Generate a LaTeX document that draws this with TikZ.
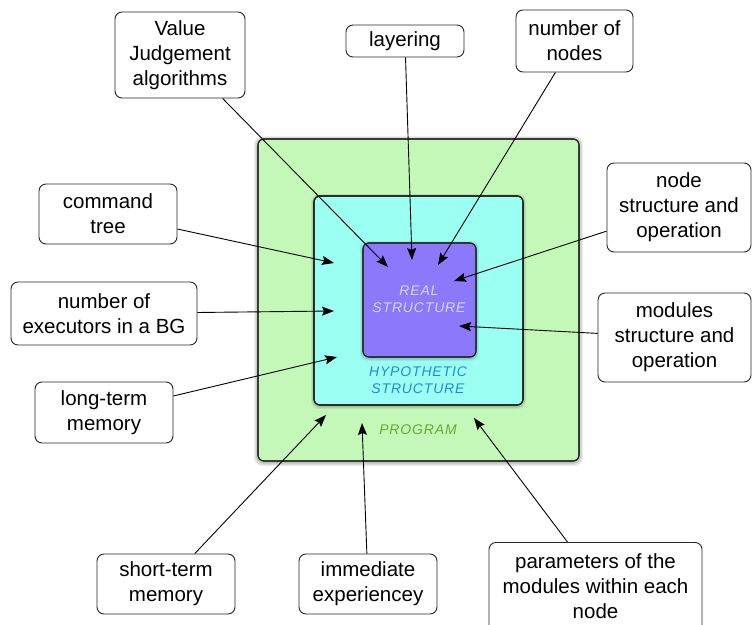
\documentclass[tikz,border=0pt]{standalone}
\usepackage{fontspec}
\setmainfont{Liberation Sans}
\newfontfamily\spacedfont[LetterSpace=6]{Liberation Sans}
\usetikzlibrary{arrows.meta}
\definecolor{progfill}{HTML}{C4F8B8}
\definecolor{hypfill}{HTML}{9BFFF2}
\definecolor{realfill}{HTML}{8B78FA}
\definecolor{hyptext}{HTML}{2389D8}
\definecolor{progtext}{HTML}{6BAA2E}
\definecolor{realtext}{HTML}{DAD3F6}
\tikzset{
  box/.style={draw=black!85, line width=0.9pt, rounded corners=7pt, fill=white,
    align=center, inner sep=0pt, font=\fontsize{20.5}{25}\selectfont},
  layer/.style={draw=black!85, line width=1.1pt, rounded corners=6pt},
  shade1/.style={fill=black, opacity=0.07, rounded corners=8pt},
  arr/.style={-{Stealth[length=12pt,width=9pt,inset=2pt]}, line width=0.9pt, black},
  inner/.style={align=center, inner sep=0pt, font=\spacedfont\itshape\fontsize{14}{17.5}\selectfont}
}
\begin{document}
\begin{tikzpicture}[x=1pt,y=-1pt]
\clip (0,0) rectangle (752,624);
\fill[white] (0,0) rectangle (752,624);
% shadows and layers
\foreach \d in {1,2,3,4}{
  \fill[shade1] (258-\d,139-\d+1) rectangle (579+\d,461+\d+1);
}
\fill[layer, fill=progfill] (258,139) rectangle (579,461);
\foreach \d in {1,2,3}{
  \fill[shade1] (314-\d,196-\d+1) rectangle (523+\d,405+\d+1);
}
\fill[layer, fill=hypfill] (314,196) rectangle (523,405);
\draw[layer] (314,196) rectangle (523,405);
\foreach \d in {1,2,3}{
  \fill[shade1] (363-\d,243-\d+1) rectangle (476+\d,357+\d+1);
}
\filldraw[layer, fill=realfill] (363,243) rectangle (476,357);
\draw[layer] (258,139) rectangle (579,461);
\draw[layer] (314,196) rectangle (523,405);
\draw[layer] (363,243) rectangle (476,357);

\node[inner, text=realtext] (real) at (419,299) {REAL\\STRUCTURE};
\node[inner, text=hyptext] (hyp) at (418,380) {HYPOTHETIC\\STRUCTURE};
\node[inner, text=progtext] (prog) at (418,430) {PROGRAM};

% label boxes
\node[box, minimum width=130, minimum height=86] (vj) at (180,55) {Value\\Judgement\\algorithms};
\node[box, minimum width=118, minimum height=32] (lay) at (405,41) {layering};
\node[box, minimum width=117, minimum height=62] (nn) at (574.5,41) {number of\\nodes};
\node[box, minimum width=144, minimum height=89] (nso) at (679,207.5) {node\\structure and\\operation};
\node[box, minimum width=153, minimum height=89] (mso) at (674.5,337.5) {modules\\structure and\\operation};
\node[box, minimum width=138, minimum height=60] (ct) at (108,214) {command\\tree};
\node[box, minimum width=186, minimum height=63] (exe) at (104,313.5) {number of\\executors in a BG};
\node[box, minimum width=138, minimum height=61] (ltm) at (104,412.5) {long-term\\memory};
\node[box, minimum width=138, minimum height=60] (stm) at (166,584) {short-term\\memory};
\node[box, minimum width=138, minimum height=60] (ie) at (368,584) {immediate\\experiencey};
\node[box, minimum width=213, anchor=north, inner ysep=11pt] (par) at (595.5,542) {parameters of the\\modules within each\\node\\ \mbox{}};

% arrow targets
\coordinate (t1) at (388,267);
\coordinate (t2) at (412,260);
\coordinate (t3) at (438,265);
\coordinate (t4) at (454,281);
\coordinate (t5) at (459,326);
\coordinate (t6) at (334,263);
\coordinate (t7) at (334,311);
\coordinate (t8) at (337,357);
\coordinate (t9) at (326,415);
\coordinate (t10) at (362,423);
\coordinate (t11) at (474,418);

\draw[arr] (vj) -- (t1);
\draw[arr] (lay) -- (t2);
\draw[arr] (nn) -- (t3);
\draw[arr] (nso) -- (t4);
\draw[arr] (mso) -- (t5);
\draw[arr] (ct) -- (t6);
\draw[arr] (exe) -- (t7);
\draw[arr] (ltm) -- (t8);
\draw[arr] (stm) -- (t9);
\draw[arr] (ie) -- (t10);
\draw[arr] ([xshift=-28pt]par.north) -- (t11);
\end{tikzpicture}
\end{document}
